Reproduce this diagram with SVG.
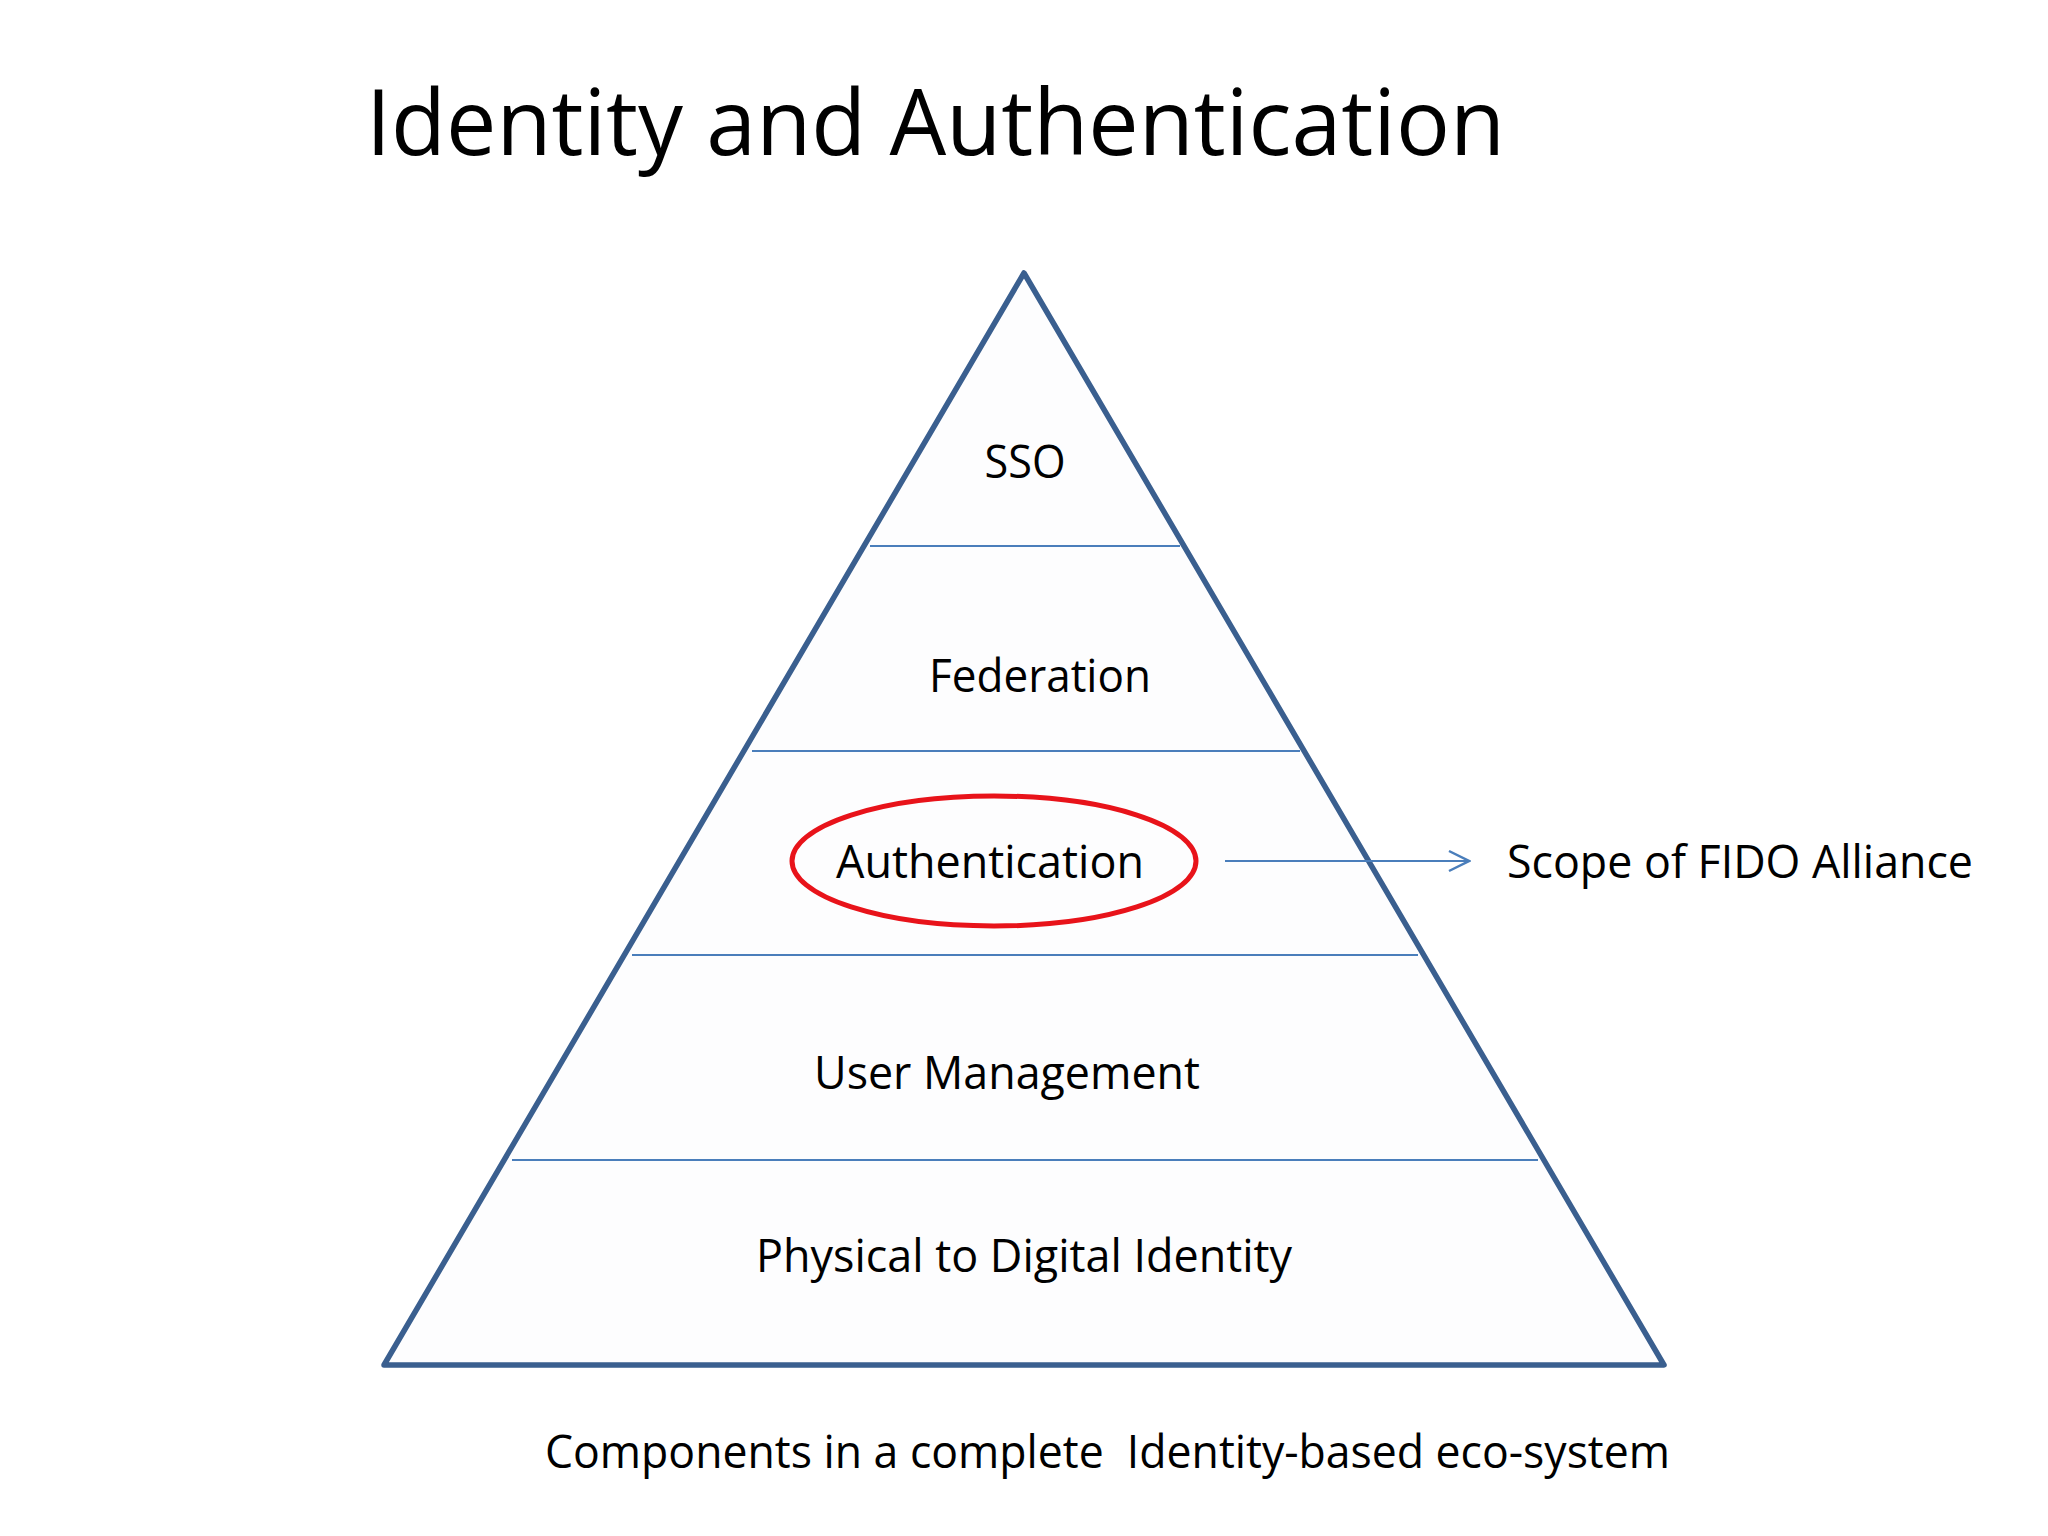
<svg xmlns="http://www.w3.org/2000/svg" width="2048" height="1536" viewBox="0 0 2048 1536">
<style>
.t{font-family:"Open Sans","Noto Sans","Liberation Sans",sans-serif;fill:#000;}
.lbl{font-size:45px;text-anchor:middle;}
.div{stroke:#4A7EBB;stroke-width:2;fill:none;}
</style>
<defs>
<marker id="chev" viewBox="0 0 24 24" refX="22" refY="12" markerWidth="24" markerHeight="24" markerUnits="userSpaceOnUse" orient="auto">
<path d="M2,2 L22,12 L2,22" fill="none" stroke="#4A7EBB" stroke-width="2.5"/>
</marker>
</defs>
<rect width="2048" height="1536" fill="#fff"/>
<text class="t" x="366" y="155" font-size="91" textLength="1139" lengthAdjust="spacingAndGlyphs">Identity and Authentication</text>
<g id="pyramid">
<polygon points="1024,273 1664,1365 384,1365" fill="#fdfdfe" stroke="#3A5F8F" stroke-width="5.5" stroke-linejoin="round"/>
</g>
<g id="dividers">
<line class="div" x1="870" y1="546" x2="1180" y2="546"/>
<line class="div" x1="752" y1="751" x2="1300" y2="751"/>
<line class="div" x1="632" y1="955" x2="1418" y2="955"/>
<line class="div" x1="512" y1="1160" x2="1538" y2="1160"/>
</g>
<g id="sso"><text class="t lbl" x="1025" y="478" textLength="81" lengthAdjust="spacingAndGlyphs">SSO</text></g>
<g id="federation"><text class="t lbl" x="1040" y="692" textLength="222" lengthAdjust="spacingAndGlyphs">Federation</text></g>
<g id="authentication">
<ellipse cx="994" cy="861" rx="202" ry="65" fill="none" stroke="#E8131A" stroke-width="5"/>
<text class="t lbl" x="990" y="878" textLength="308" lengthAdjust="spacingAndGlyphs">Authentication</text>
</g>
<g id="user-management"><text class="t lbl" x="1007" y="1089" textLength="386" lengthAdjust="spacingAndGlyphs">User Management</text></g>
<g id="physical"><text class="t lbl" x="1024" y="1272" textLength="536" lengthAdjust="spacingAndGlyphs">Physical to Digital Identity</text></g>
<g id="scope"><text class="t" x="1507" y="878" font-size="45" textLength="466" lengthAdjust="spacingAndGlyphs">Scope of FIDO Alliance</text></g>
<g id="connectors">
<line x1="1225" y1="861" x2="1469" y2="861" stroke="#4A7EBB" stroke-width="2" marker-end="url(#chev)"/>
</g>
<text class="t" x="545" y="1468" font-size="45" style="white-space:pre" textLength="1125" lengthAdjust="spacingAndGlyphs">Components in a complete  Identity-based eco-system</text>
</svg>
